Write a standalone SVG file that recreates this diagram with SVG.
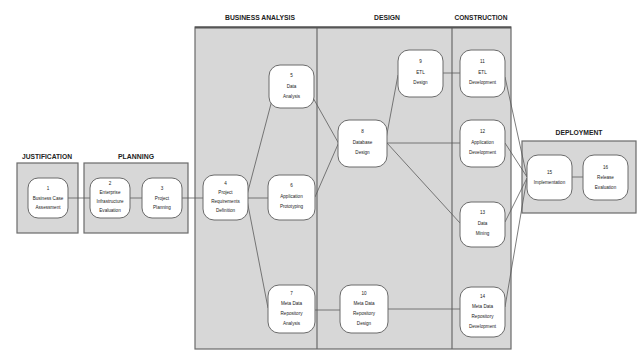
<svg xmlns="http://www.w3.org/2000/svg" width="642" height="354" viewBox="0 0 642 354">
<style>
.box{fill:#d7d7d7;stroke:#6a6a6a;stroke-width:1.2}
.node rect{fill:#ffffff;stroke:#6a6a6a;stroke-width:1}
.node text{font-family:"Liberation Sans",Arial,sans-serif;font-size:4.6px;fill:#222;text-anchor:middle}
.hdr{font-family:"Liberation Sans",Arial,sans-serif;font-size:7.5px;font-weight:bold;fill:#222;text-anchor:middle}
#connectors line{stroke:#5a5a5a;stroke-width:0.8;fill:none}
</style>
<rect x="0" y="0" width="642" height="354" fill="#ffffff"/>
<g id="phases">
<rect class="box" x="17" y="163" width="61" height="70"/>
<rect class="box" x="84" y="163" width="104" height="70"/>
<rect class="box" x="195" y="27" width="316" height="322"/>
<line x1="317" y1="27" x2="317" y2="349" stroke="#6a6a6a" stroke-width="1.2"/>
<line x1="452" y1="27" x2="452" y2="349" stroke="#6a6a6a" stroke-width="1.2"/>
<line x1="195" y1="27.5" x2="511" y2="27.5" stroke="#555" stroke-width="2"/>
<rect class="box" x="522" y="141" width="114" height="72"/>
<text class="hdr" x="47" y="159" textLength="50" lengthAdjust="spacingAndGlyphs">JUSTIFICATION</text>
<text class="hdr" x="136" y="159" textLength="36" lengthAdjust="spacingAndGlyphs">PLANNING</text>
<text class="hdr" x="260" y="20" textLength="70" lengthAdjust="spacingAndGlyphs">BUSINESS ANALYSIS</text>
<text class="hdr" x="387" y="20" textLength="26" lengthAdjust="spacingAndGlyphs">DESIGN</text>
<text class="hdr" x="481" y="20" textLength="53" lengthAdjust="spacingAndGlyphs">CONSTRUCTION</text>
<text class="hdr" x="579" y="135" textLength="47" lengthAdjust="spacingAndGlyphs">DEPLOYMENT</text>
</g>
<g id="connectors">
<line x1="68" y1="198" x2="90" y2="198"/>
<line x1="130" y1="198" x2="142" y2="198"/>
<line x1="182" y1="198" x2="203" y2="198"/>
<line x1="247" y1="195" x2="272" y2="100"/>
<line x1="248" y1="198" x2="268" y2="198"/>
<line x1="247" y1="200" x2="268" y2="308"/>
<line x1="312" y1="96" x2="339" y2="144"/>
<line x1="315" y1="197" x2="339" y2="142"/>
<line x1="386" y1="139" x2="398" y2="75"/>
<line x1="387" y1="143" x2="460" y2="143"/>
<line x1="387" y1="143" x2="460" y2="223"/>
<line x1="443" y1="73" x2="460" y2="73"/>
<line x1="315" y1="310" x2="340" y2="310"/>
<line x1="388" y1="309" x2="460" y2="309"/>
<line x1="505" y1="77" x2="527" y2="177"/>
<line x1="505" y1="143" x2="527" y2="177"/>
<line x1="505" y1="222" x2="527" y2="178"/>
<line x1="505" y1="307" x2="527" y2="178"/>
<line x1="572" y1="177" x2="583" y2="177"/>
</g>
<g id="n1" class="node"><rect x="28" y="178" width="40" height="40" rx="10"/><text x="48" y="190">1</text><text x="48" y="199.5">Business Case</text><text x="48" y="208.5">Assessment</text></g>
<g id="n2" class="node"><rect x="90" y="178" width="40" height="40" rx="10"/><text x="110" y="185">2</text><text x="110" y="194">Enterprise</text><text x="110" y="203">Infrastructure</text><text x="110" y="212">Evaluation</text></g>
<g id="n3" class="node"><rect x="142" y="178" width="40" height="40" rx="10"/><text x="162" y="190">3</text><text x="162" y="199.5">Project</text><text x="162" y="208.5">Planning</text></g>
<g id="n4" class="node"><rect x="203" y="175" width="45" height="45" rx="11"/><text x="225.5" y="185">4</text><text x="225.5" y="194">Project</text><text x="225.5" y="203">Requirements</text><text x="225.5" y="212">Definition</text></g>
<g id="n5" class="node"><rect x="269" y="65" width="45" height="43" rx="11"/><text x="291.5" y="77">5</text><text x="291.5" y="87.5">Data</text><text x="291.5" y="98">Analysis</text></g>
<g id="n6" class="node"><rect x="268" y="175" width="47" height="45" rx="11"/><text x="291.5" y="187">6</text><text x="291.5" y="197.5">Application</text><text x="291.5" y="207.5">Prototyping</text></g>
<g id="n7" class="node"><rect x="268" y="285" width="47" height="48" rx="11"/><text x="291.5" y="295">7</text><text x="291.5" y="305">Meta Data</text><text x="291.5" y="315">Repository</text><text x="291.5" y="325">Analysis</text></g>
<g id="n8" class="node"><rect x="338" y="120" width="49" height="47" rx="11"/><text x="362.5" y="133">8</text><text x="362.5" y="143.5">Database</text><text x="362.5" y="154">Design</text></g>
<g id="n9" class="node"><rect x="398" y="50" width="45" height="47" rx="11"/><text x="420.5" y="63">9</text><text x="420.5" y="73.5">ETL</text><text x="420.5" y="84">Design</text></g>
<g id="n10" class="node"><rect x="340" y="285" width="48" height="48" rx="11"/><text x="364" y="295">10</text><text x="364" y="305">Meta Data</text><text x="364" y="315">Repository</text><text x="364" y="325">Design</text></g>
<g id="n11" class="node"><rect x="460" y="50" width="45" height="47" rx="11"/><text x="482.5" y="63">11</text><text x="482.5" y="73.5">ETL</text><text x="482.5" y="84">Development</text></g>
<g id="n12" class="node"><rect x="460" y="120" width="45" height="47" rx="11"/><text x="482.5" y="133">12</text><text x="482.5" y="143.5">Application</text><text x="482.5" y="154">Development</text></g>
<g id="n13" class="node"><rect x="460" y="202" width="45" height="45" rx="11"/><text x="482.5" y="214">13</text><text x="482.5" y="224.5">Data</text><text x="482.5" y="235">Mining</text></g>
<g id="n14" class="node"><rect x="460" y="287" width="45" height="50" rx="11"/><text x="482.5" y="298">14</text><text x="482.5" y="308">Meta Data</text><text x="482.5" y="318">Repository</text><text x="482.5" y="328">Development</text></g>
<g id="n15" class="node"><rect x="527" y="155" width="45" height="45" rx="11"/><text x="549.5" y="174">15</text><text x="549.5" y="184">Implementation</text></g>
<g id="n16" class="node"><rect x="583" y="155" width="45" height="45" rx="11"/><text x="605.5" y="169">16</text><text x="605.5" y="179">Release</text><text x="605.5" y="189">Evaluation</text></g>
</svg>
